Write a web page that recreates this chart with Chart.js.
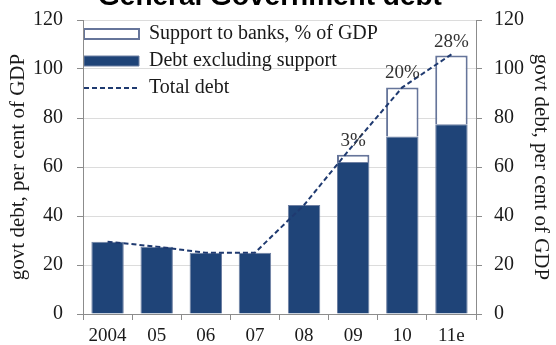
<!DOCTYPE html>
<html>
<head>
<meta charset="utf-8">
<script src="https://cdn.jsdelivr.net/npm/chart.js@4/dist/chart.umd.min.js"></script>
<style>
  html, body { margin: 0; padding: 0; background: #fff; overflow: hidden; }
  #wrap { position: absolute; left: 0; top: -20px; width: 556px; height: 365px; }
</style>
</head>
<body>
<div id="wrap"><canvas id="chart"></canvas></div>
<script>
// General government debt, per cent of GDP
const years = ['2004', '05', '06', '07', '08', '09', '10', '11e'];
const debtExcludingSupport = [29.5, 27.5, 25, 25, 44.5, 62, 72.5, 77.5];
const bankSupport = [0, 0, 0, 0, 0, 3, 20, 28];
const totalDebt = [29.5, 27.5, 25, 25, 44.5, 69, 92.5, 106];
const yTicks = [0, 20, 40, 60, 80, 100, 120];

const SERIF = "'Liberation Serif', 'Times New Roman', serif";
const NAVY = '#1f4478';
const AXIS = '#8c8c8c';
const TEXT = '#1a1a1a';

const setTicks = (scale) => { scale.ticks = yTicks.map(v => ({ value: v })); };

// percentage of GDP written above each support bar
const supportLabels = {
  id: 'supportLabels',
  afterDatasetsDraw(chart) {
    const meta = chart.getDatasetMeta(2);
    const ctx = chart.ctx;
    ctx.save();
    ctx.font = '19px ' + SERIF;
    ctx.fillStyle = '#333';
    ctx.textAlign = 'center';
    ctx.textBaseline = 'alphabetic';
    bankSupport.forEach((v, i) => {
      if (!v) return;
      const el = meta.data[i];
      ctx.fillText(v + '%', el.x, el.y - 9);
    });
    ctx.restore();
  }
};

// tuck the legend into the top-left corner of the plot, and centre the heading a little left
const placement = {
  id: 'placement',
  afterLayout(chart) {
    const area = chart.chartArea;
    if (chart.legend) {
      chart.legend.left = area.left - 6;
      chart.legend.top = area.top - 3;
    }
    if (chart.titleBlock) {
      chart.titleBlock.left -= 8;
      chart.titleBlock.right -= 8;
    }
  }
};

new Chart(document.getElementById('chart'), {
  data: {
    labels: years,
    datasets: [
      {
        type: 'line',
        label: 'Total debt',
        data: totalDebt,
        borderColor: '#1f3a70',
        backgroundColor: '#1f3a70',
        borderWidth: 2,
        borderDash: [5, 3],
        pointRadius: 0,
        fill: false,
        tension: 0,
        stack: 'total'
      },
      {
        type: 'bar',
        label: 'Debt excluding support',
        data: debtExcludingSupport,
        backgroundColor: NAVY,
        borderColor: '#6f80a3',
        borderWidth: 1,
        stack: 'debt'
      },
      {
        type: 'bar',
        label: 'Support to banks, % of GDP',
        data: bankSupport.map(v => v || null),
        backgroundColor: '#ffffff',
        borderColor: '#66759a',
        borderWidth: 2,
        stack: 'debt'
      }
    ]
  },
  options: {
    responsive: true,
    maintainAspectRatio: false,
    animation: false,
    devicePixelRatio: 1,
    layout: { padding: 0 },
    datasets: {
      bar: { categoryPercentage: 1, barPercentage: 0.66 }
    },
    scales: {
      x: {
        stacked: true,
        grid: { display: true, drawOnChartArea: false, offset: true, tickLength: 6, tickColor: AXIS, lineWidth: 1 },
        border: { color: AXIS, width: 1 },
        ticks: { color: TEXT, font: { family: SERIF, size: 19 }, padding: 5, maxRotation: 0 },
        afterFit(scale) { scale.height = 31; }
      },
      y: {
        position: 'left',
        stacked: true,
        min: 0, max: 120,
        afterBuildTicks: setTicks,
        grid: { color: '#dcdcdc', tickColor: AXIS, tickLength: 6, lineWidth: 1 },
        border: { color: AXIS, width: 1 },
        ticks: { color: TEXT, font: { family: SERIF, size: 20 }, padding: 14 },
        title: { display: true, text: 'govt debt, per cent of GDP', color: TEXT, font: { family: SERIF, size: 21 }, padding: { top: 6, bottom: 0 } },
        afterFit(scale) { scale.width = 83; }
      },
      y2: {
        position: 'right',
        min: 0, max: 120,
        afterBuildTicks: setTicks,
        grid: { drawOnChartArea: false, tickColor: AXIS, tickLength: 6 },
        border: { color: AXIS, width: 1 },
        ticks: { color: TEXT, font: { family: SERIF, size: 20 }, padding: 12 },
        title: { display: true, text: 'govt debt, per cent of GDP', color: TEXT, font: { family: SERIF, size: 21 }, padding: { top: 3, bottom: 0 } },
        afterFit(scale) { scale.width = 80; }
      }
    },
    plugins: {
      title: {
        display: true,
        text: 'General Government debt',
        color: '#000',
        font: { family: "'Liberation Sans', Arial, sans-serif", size: 28, weight: 'bold' },
        padding: { top: 0.5, bottom: 5.9 }
      },
      legend: {
        position: 'chartArea',
        align: 'start',
        labels: {
          usePointStyle: true,
          pointStyleWidth: 55,
          boxHeight: 10,
          padding: 7,
          color: TEXT,
          font: { family: SERIF, size: 20 },
          generateLabels(chart) {
            const items = Chart.defaults.plugins.legend.labels.generateLabels(chart);
            items.forEach(it => {
              const ds = chart.data.datasets[it.datasetIndex];
              if (ds.type === 'line') {
                it.pointStyle = 'line';
                it.lineDash = ds.borderDash;
                it.lineWidth = ds.borderWidth;
                it.strokeStyle = ds.borderColor;
              } else {
                it.pointStyle = 'rect';
              }
            });
            const rank = [2, 1, 0];
            return rank.map(idx => items.find(it => it.datasetIndex === idx));
          }
        }
      },
      tooltip: { enabled: false }
    }
  },
  plugins: [supportLabels, placement]
});
</script>
</body>
</html>
